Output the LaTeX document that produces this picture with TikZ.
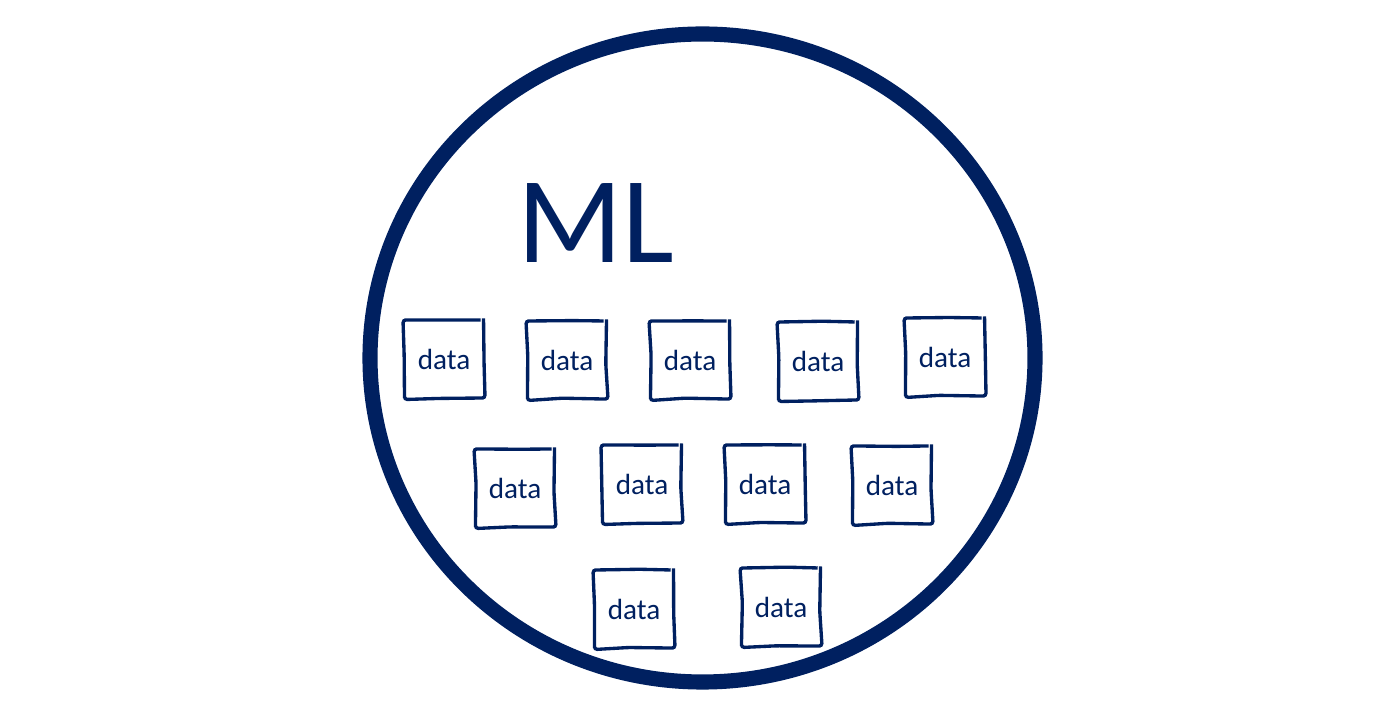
\documentclass[tikz,border=0pt]{standalone}
\usepackage{fontspec}
\setmainfont{Carlito}
\usetikzlibrary{decorations.pathmorphing}

\definecolor{navy}{HTML}{002060}

\begin{document}
\pgfmathsetseed{11}
\begin{tikzpicture}[x=0.01cm,y=-0.01cm,
    databox/.style={draw=navy,line width=0.95pt,minimum width=0.79cm,minimum height=0.78cm,
      inner sep=0pt,text=navy,font=\fontsize{8.3}{9}\selectfont,rounded corners=0.8pt,
      decorate,decoration={random steps,segment length=9pt,amplitude=0.3pt}},
    title/.style={text=navy,font=\fontsize{35}{40}\selectfont,inner sep=0pt,anchor=base}]
        \useasboundingbox (0,0) rectangle (1400,710);

        % outer ring
        \draw[navy,line width=4.3pt] (702.5,358) ellipse [x radius=332.5,y radius=324];

        \node[title] (ml) at (596,263) {ML};

        % data boxes, row by row
        \foreach \n/\x/\y in {1/444/359,2/567/360,3/690/360,4/818/361,5/945/357,
                              6/515/488,7/642/484,8/765/484,9/892/485,
                              10/634/609,11/781/607} {
          \node[databox] (d\n) at (\x,\y) {data};
        }
      \end{tikzpicture}
\end{document}
